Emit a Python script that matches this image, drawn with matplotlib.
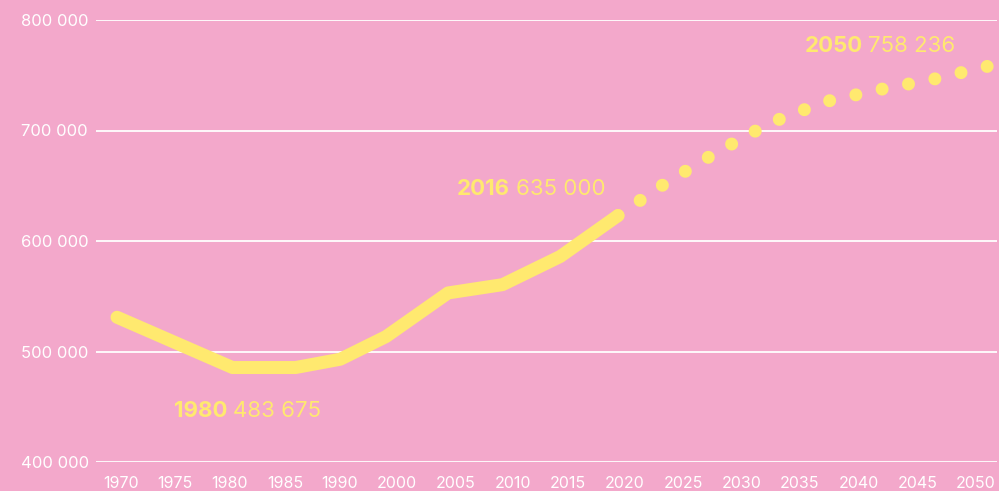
import numpy as np
import matplotlib
matplotlib.use("Agg")
import matplotlib.pyplot as plt

# -----------------------------
# Data
# -----------------------------
hist_years = [1970, 1980.6, 1986.4, 1990.5, 1994.7, 2000.4, 2005.4, 2010.7, 2016]
hist_pop = [531000, 485500, 485500, 493000, 513500, 553000, 560500, 586000, 623000]

proj_years = [2016, 2020, 2025, 2030, 2035, 2040, 2045, 2050]
proj_pop = [623000, 650000, 680000, 707000, 726000, 737000, 746500, 758236]

tick_labels = ["1970", "1975", "1980", "1985", "1990", "2000", "2005", "2010",
               "2015", "2020", "2025", "2030", "2035", "2040", "2045", "2050"]
y_ticks = [400000, 500000, 600000, 700000, 800000]

callouts = [  # (year, value, bold label, value label, offset in points)
    (1980, 483675, "1980", "483 675", (-37.4, -34.2)),
    (2016, 635000, "2016", "635 000", (-115.9, 5.3)),
    (2050, 758236, "2050", "758 236", (-132.5, 10.1)),
]

PINK = "#F3A8CB"
YELLOW = "#FFE96F"
FONT = "Inter"
W, H = 999, 491

plt.rcParams["font.family"] = [FONT, "DejaVu Sans"]

fig = plt.figure(figsize=(W / 100, H / 100), dpi=100, facecolor=PINK)
ax = fig.add_axes([96 / W, 1 - 462 / H, 901 / W, 442 / H])
ax.set_facecolor(PINK)

ax.set_xlim(1968.07, 2050.8)
ax.set_ylim(400000, 800000)

# grid lines
for yv in y_ticks:
    ax.axhline(yv, color="white", lw=1.3, zorder=1)

# historic line + projection dots
lw = 13 * 72 / 100
ax.plot(hist_years, hist_pop, color=YELLOW, lw=lw, solid_capstyle="round",
        solid_joinstyle="round", zorder=3)
ax.plot(proj_years, proj_pop, color=YELLOW, lw=lw, linestyle=(0, (0.001, 2.066)),
        dash_capstyle="round", zorder=3)

# y tick labels, left aligned at figure edge
ax.set_yticks(y_ticks)
ax.set_yticklabels([f"{v:,}".replace(",", " ") for v in y_ticks])
ax.tick_params(axis="y", length=0, pad=54, labelcolor="white", labelsize=12)
for t in ax.get_yticklabels():
    t.set_horizontalalignment("left")
ax.set_xticks([])

for s in ax.spines.values():
    s.set_visible(False)

# x labels: spread with equal gaps between them (space-between layout)
x_left, x_right, x_base = 103, 996, 488
texts = [fig.text(0, 1 - x_base / H, lab, color="white", fontsize=11.5,
                  ha="left", va="baseline") for lab in tick_labels]
renderer = fig.canvas.get_renderer()
widths = [t.get_window_extent(renderer).width for t in texts]
gap = (x_right - x_left - sum(widths)) / (len(texts) - 1)
cur = x_left
for t, w in zip(texts, widths):
    t.set_x(cur / W)
    cur += w + gap

# callouts: bold year followed by regular value
for yr, val, bold, rest, off in callouts:
    t1 = ax.annotate(bold, xy=(yr, val), xytext=off, textcoords="offset points",
                     color=YELLOW, fontsize=16, fontweight="bold",
                     ha="left", va="baseline", zorder=4)
    ax.annotate(rest, xy=(1, 0), xycoords=t1, xytext=(4, 0),
                textcoords="offset points", color=YELLOW, fontsize=16,
                ha="left", va="bottom", zorder=4)

fig.savefig("out.png", dpi=100, facecolor=PINK)
